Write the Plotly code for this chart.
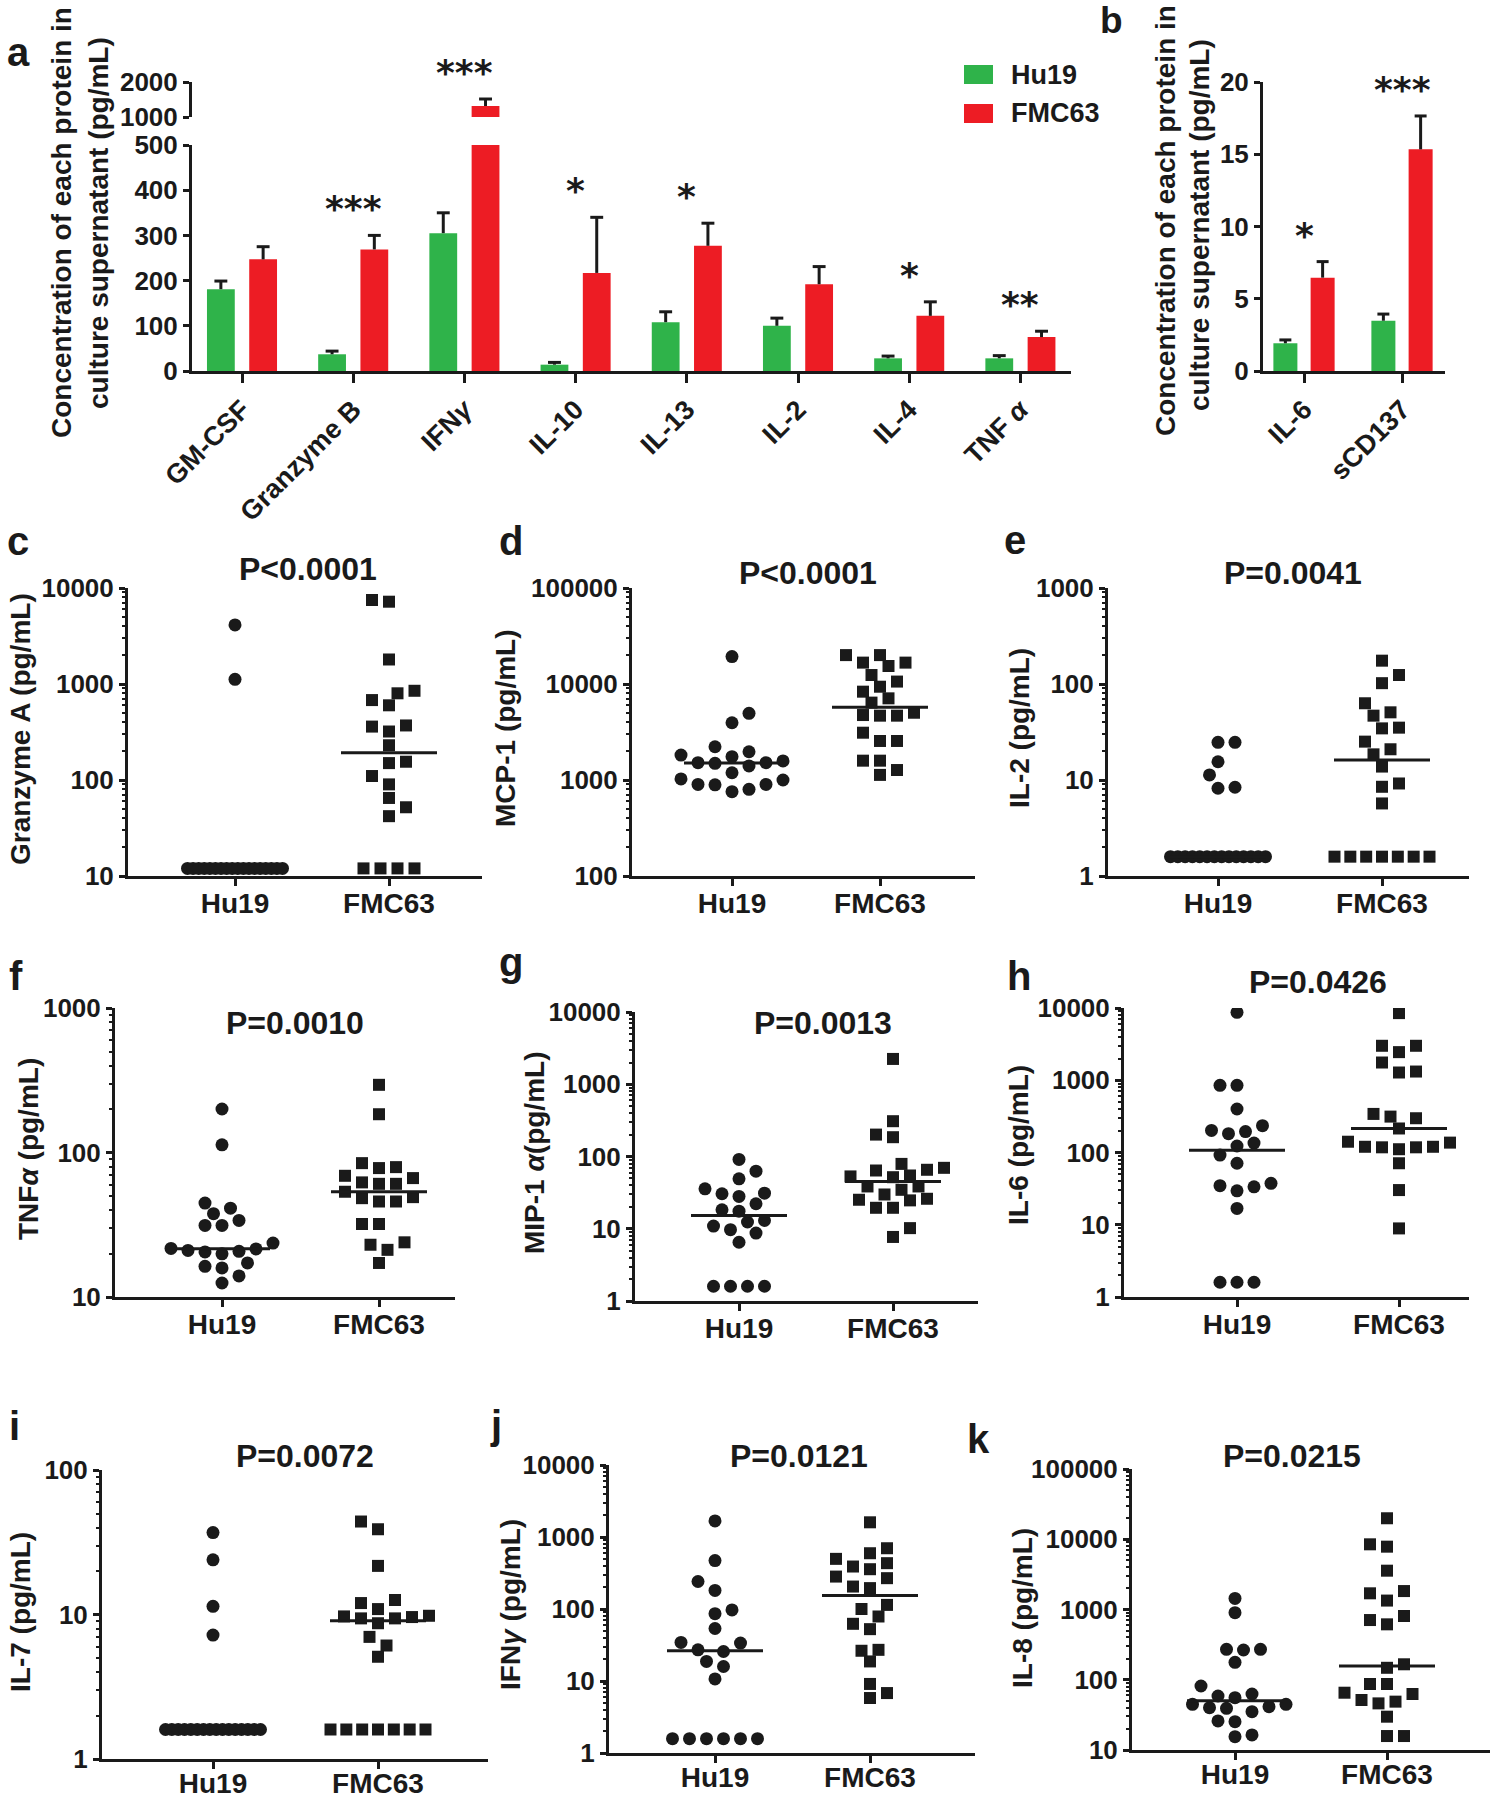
import numpy as np
import plotly.graph_objects as go

W, H = 1495, 1800
INK = "#1a1a1a"
GREEN = "#2fb34a"
RED = "#ed1c24"
FONT = "Liberation Sans, Arial, sans-serif"

# ---- panel a: mean + SEM (pg/mL)
A_CATS = ["GM-CSF", "Granzyme B", "IFN<i>γ</i>", "IL-10", "IL-13", "IL-2", "IL-4", "TNF <i>α</i>"]
A_HU19 = [181, 37, 305, 14, 108, 100, 28, 28]
A_HU19_SEM = [18, 7, 45, 5, 23, 17, 5, 6]
A_FMC63 = [247, 269, 1314, 217, 277, 192, 122, 75]
A_FMC63_SEM = [28, 31, 200, 123, 50, 39, 31, 13]
A_STARS = ["", "***", "***", "*", "*", "", "*", "**"]

# ---- panel b
B_CATS = ["IL-6", "sCD137"]
B_HU19 = [1.92, 3.48]
B_HU19_SEM = [0.23, 0.46]
B_FMC63 = [6.46, 15.34]
B_FMC63_SEM = [1.11, 2.31]
B_STARS = ["*", "***"]

# ---- panels c-k: individual values (pg/mL)
C_HU19 = [4120, 1120, 12, 12, 12, 12, 12, 12, 12, 12, 12, 12, 12, 12, 12, 12, 12, 12, 12, 12]
C_FMC63 = [7500, 7200, 1800, 850, 800, 680, 600, 370, 360, 320, 230, 155, 150, 110, 90, 65, 52, 42,
           12, 12, 12, 12]
D_HU19 = [19300, 4950, 3950, 2220, 1970, 1820, 1750, 1580, 1515, 1400, 1490, 1515, 1190, 1025, 1000,
          900, 890, 900, 755, 800]
D_FMC63 = [20000, 20000, 16700, 16700, 15400, 12400, 10600, 9370, 8320, 7090, 6400, 4750, 4680, 4680,
           5020, 3110, 2550, 2550, 1590, 1590, 1270, 1130]
E_HU19 = [24.7, 24.7, 15.5, 11.3, 8.4, 8.2, 1.59, 1.59, 1.59, 1.59, 1.59, 1.59, 1.59, 1.59, 1.59, 1.59,
          1.59, 1.59, 1.59, 1.59]
E_FMC63 = [175, 124, 102, 63, 50.7, 46.8, 34.5, 35.1, 25.1, 20.9, 18.5, 13.8, 9.2, 8.5, 5.7,
           1.59, 1.59, 1.59, 1.59, 1.59, 1.59, 1.59]
F_HU19 = [200, 113, 44.7, 41.2, 37.7, 33.9, 31.3, 31.3, 23.6, 21.5, 20.7, 19.9, 20.5, 21.0, 21.7, 17.2,
          15.9, 16.3, 14.0, 12.5]
F_FMC63 = [294, 184, 84.4, 79.2, 78.0, 69.0, 66.5, 62.1, 60.7, 60.7, 53.5, 49.1, 45.8, 45.8, 48.3, 32.0,
           32.0, 23.0, 23.9, 21.2, 17.2]
G_HU19 = [91, 62.7, 49.1, 31.1, 35.7, 28.0, 30.5, 22.2, 17.5, 18.3, 10.9, 12.4, 13.0, 9.7, 8.7, 6.5,
          1.6, 1.6, 1.6, 1.6]
G_FMC63 = [2240, 308, 185, 201, 79, 65.5, 64, 69.7, 53, 51.7, 54.6, 38.5, 38.5, 34.6, 29.8, 25.2, 24.7,
           26, 19.5, 19.5, 10.2, 7.7]
H_HU19 = [8700, 850, 850, 400, 195, 235, 202, 182, 135, 123, 92, 71, 37.4, 33.5, 34.7, 29.5, 16.8,
          1.6, 1.6, 1.6]
H_FMC63 = [8500, 3000, 3000, 2450, 1760, 1320, 1280, 314, 298, 342, 215, 120, 141, 118, 137, 118, 111,
           120, 71, 30.2, 8.9]
I_HU19 = [36.9, 23.9, 11.4, 7.2, 1.6, 1.6, 1.6, 1.6, 1.6, 1.6, 1.6, 1.6, 1.6, 1.6, 1.6, 1.6, 1.6, 1.6,
          1.6, 1.6]
I_FMC63 = [44, 38.9, 21.7, 12.6, 12.0, 10.9, 9.7, 9.4, 9.4, 9.6, 9.8, 8.7, 7.0, 6.1, 5.1,
           1.6, 1.6, 1.6, 1.6, 1.6, 1.6, 1.6]
J_HU19 = [1670, 471, 241, 181, 86, 97, 53.6, 34.3, 33.6, 27.1, 25.7, 18.7, 15.9, 10.7,
          1.58, 1.58, 1.58, 1.58, 1.58, 1.58]
J_FMC63 = [1600, 698, 595, 497, 389, 433, 357, 268, 282, 195, 205, 114, 100, 78.7, 62.3, 52.5, 26.3,
           27.1, 18.7, 9.1, 6.8, 5.8]
K_HU19 = [1440, 900, 271, 265, 271, 177, 81.5, 58.7, 62.7, 55.6, 44.7, 41.4, 39.2, 35.1, 40.1, 44.7,
          25.3, 25.9, 15.5, 16.4]
K_FMC63 = [19900, 8470, 7840, 3570, 1700, 1830, 1340, 808, 708, 615, 166, 148, 87, 87, 65.4, 62.7,
           46.1, 51.5, 48.8, 29.8, 15.8, 15.8]

GROUPS = ["Hu19", "FMC63"]

PANELS = [
    ("c", C_HU19, C_FMC63, "Granzyme A (pg/mL)", "P&lt;0.0001", (1, 4)),
    ("d", D_HU19, D_FMC63, "MCP-1 (pg/mL)", "P&lt;0.0001", (2, 5)),
    ("e", E_HU19, E_FMC63, "IL-2 (pg/mL)", "P=0.0041", (0, 3)),
    ("f", F_HU19, F_FMC63, "TNF<i>α</i> (pg/mL)", "P=0.0010", (1, 3)),
    ("g", G_HU19, G_FMC63, "MIP-1 <i>α</i>(pg/mL)", "P=0.0013", (0, 4)),
    ("h", H_HU19, H_FMC63, "IL-6 (pg/mL)", "P=0.0426", (0, 4)),
    ("i", I_HU19, I_FMC63, "IL-7 (pg/mL)", "P=0.0072", (0, 2)),
    ("j", J_HU19, J_FMC63, "IFN<i>γ</i> (pg/mL)", "P=0.0121", (0, 4)),
    ("k", K_HU19, K_FMC63, "IL-8 (pg/mL)", "P=0.0215", (1, 5)),
]

# pixel geometry of each scatter panel (y-axis x, axis end, top, bottom, group ticks, text spots)
GEOM = {
    "c": dict(x0=128, x1=482, top=588, bot=876, hu=235, fmc=389, title=(308, 569), ylab=(20, 729), letter=(5, 557)),
    "d": dict(x0=632, x1=975, top=588, bot=876, hu=732, fmc=880, title=(808, 573), ylab=(506, 728), letter=(497, 557)),
    "e": dict(x0=1108, x1=1469, top=588, bot=876, hu=1218, fmc=1382, title=(1293, 573), ylab=(1020, 728), letter=(1002, 556)),
    "f": dict(x0=115, x1=455, top=1008, bot=1297, hu=222, fmc=379, title=(295, 1023), ylab=(28, 1149), letter=(7, 992)),
    "g": dict(x0=635, x1=978, top=1012, bot=1301, hu=739, fmc=893, title=(823, 1023), ylab=(534, 1153), letter=(497, 978)),
    "h": dict(x0=1124, x1=1469, top=1008, bot=1297, hu=1237, fmc=1399, title=(1318, 982), ylab=(1018, 1145), letter=(1005, 992)),
    "i": dict(x0=102, x1=488, top=1470, bot=1759, hu=213, fmc=378, title=(305, 1456), ylab=(20, 1612), letter=(7, 1442)),
    "j": dict(x0=609, x1=975, top=1465, bot=1753, hu=715, fmc=870, title=(799, 1456), ylab=(510, 1605), letter=(488, 1441)),
    "k": dict(x0=1132, x1=1490, top=1469, bot=1750, hu=1235, fmc=1387, title=(1292, 1456), ylab=(1022, 1608), letter=(965, 1455)),
}

# legend swatches (pixel boxes) and label spots
LEGEND = [("Hu19", GREEN, (964, 65, 993, 84)), ("FMC63", RED, (964, 104, 993, 123))]


def bold(size, family=FONT):
    return dict(family=family, size=size, color=INK, weight="bold")


def px(x):
    return x / W


def py(y):
    return 1 - y / H


def axis_style(**kw):
    base = dict(showline=True, linewidth=3, linecolor=INK, ticks="outside", tickwidth=3,
                tickcolor=INK, showgrid=False, zeroline=False, automargin=False, tickfont=bold(26))
    base.update(kw)
    return base


def err_trace(xs, vals, sem, cap, xaxis, yaxis):
    ex, ey = [], []
    for x, v, e in zip(xs, vals, sem):
        top = v + e
        ex += [x, x, None, x - cap, x + cap, None]
        ey += [v, top, None, top, top, None]
    return go.Scatter(x=ex, y=ey, mode="lines", line=dict(color=INK, width=3),
                      showlegend=False, hoverinfo="skip", xaxis=xaxis, yaxis=yaxis)


def swarm(vals, ppd, ppu, diam=13.5, step=8.5, tie_gap=17.0, tie_span=95.0):
    # simple beeswarm in pixel space, ties (>=3) spread in a row
    v = np.asarray(vals, float)
    ypx = np.log10(v) * ppd
    off = np.full(len(v), np.nan)
    uniq, cnt = np.unique(v, return_counts=True)
    for u, c in zip(uniq, cnt):
        if c >= 3:
            idx = np.flatnonzero(v == u)
            gap = min(tie_gap, tie_span / (c - 1))
            off[idx] = (np.arange(c) - (c - 1) / 2) * gap
    placed = [(off[i], ypx[i]) for i in range(len(v)) if not np.isnan(off[i])]
    side = 1.0
    for i in sorted(np.flatnonzero(np.isnan(off)), key=lambda k: v[k]):
        got = None
        for j in range(60):
            cands = [0.0] if j == 0 else [side * j * step, -side * j * step]
            for c in cands:
                if all((c - qx) ** 2 + (ypx[i] - qy) ** 2 >= diam ** 2 for qx, qy in placed):
                    got = c
                    break
            if got is not None:
                break
        if got != 0:
            side = -np.sign(got)
        off[i] = got
        placed.append((got, ypx[i]))
    return off / ppu


fig = go.Figure()
annotations = []
shapes = []
layout = {}

# ---------------- panel a (broken y axis) ----------------
a_x0, a_x1, a_c0, a_step = 192, 1071, 242, 111.2
a_low_top, a_low_bot, a_up_top, a_up_bot = 145, 371, 82, 117
A_LOW_MAX = 500
xa = np.arange(len(A_CATS))
a_off, a_bw, a_cap = 0.19, 0.25, 0.058

for name, vals, sem, color, sign in [("Hu19", A_HU19, A_HU19_SEM, GREEN, -1),
                                      ("FMC63", A_FMC63, A_FMC63_SEM, RED, 1)]:
    xs = xa + sign * a_off
    for yax in ["y", "y2"]:
        fig.add_trace(go.Bar(x=xs, y=vals, width=a_bw, marker_color=color, marker_line_width=0,
                             name=name, showlegend=False, xaxis="x", yaxis=yax))
        fig.add_trace(err_trace(xs, vals, sem, a_cap, "x", yax))

for i, s in enumerate(A_STARS):
    if not s:
        continue
    top = max(A_HU19[i] + A_HU19_SEM[i], A_FMC63[i] + A_FMC63_SEM[i])
    annotations.append(dict(x=i, y=top, xref="x", yref="y" if top <= A_LOW_MAX else "y2",
                            text=s, showarrow=False, yanchor="bottom", yshift=4,
                            font=bold(36, "DejaVu Sans, sans-serif")))

layout["xaxis"] = axis_style(domain=[px(a_x0), px(a_x1)], anchor="y",
                             range=[(a_x0 - a_c0) / a_step, (a_x1 - a_c0) / a_step],
                             tickvals=list(xa), ticktext=A_CATS, tickangle=-45, ticklen=9,
                             tickfont=bold(27))
layout["yaxis"] = axis_style(domain=[py(a_low_bot), py(a_low_top)], anchor="x",
                             range=[0, A_LOW_MAX], tickvals=[0, 100, 200, 300, 400, 500], ticklen=6)
layout["yaxis2"] = axis_style(domain=[py(a_up_bot), py(a_up_top)], anchor="x",
                              range=[1000, 2000], tickvals=[1000, 2000], ticklen=6)

for name, color, (x0, y0, x1, y1) in LEGEND:
    shapes.append(dict(type="rect", xref="paper", yref="paper", x0=px(x0), x1=px(x1),
                       y0=py(y1), y1=py(y0), fillcolor=color, line_width=0))
    annotations.append(dict(x=px(x1 + 16), y=py((y0 + y1) / 2), xref="paper", yref="paper",
                            text=name, showarrow=False, xanchor="left", yanchor="middle",
                            font=bold(27)))

# ---------------- panel b ----------------
b_x0, b_x1, b_c0, b_step = 1263, 1445, 1304, 98
xb = np.arange(len(B_CATS))
b_off, b_bw, b_cap = 0.19, 0.245, 0.061
for name, vals, sem, color, sign in [("Hu19", B_HU19, B_HU19_SEM, GREEN, -1),
                                      ("FMC63", B_FMC63, B_FMC63_SEM, RED, 1)]:
    xs = xb + sign * b_off
    fig.add_trace(go.Bar(x=xs, y=vals, width=b_bw, marker_color=color, marker_line_width=0,
                         name=name, showlegend=False, xaxis="x3", yaxis="y3"))
    fig.add_trace(err_trace(xs, vals, sem, b_cap, "x3", "y3"))
for i, s in enumerate(B_STARS):
    top = max(B_HU19[i] + B_HU19_SEM[i], B_FMC63[i] + B_FMC63_SEM[i])
    annotations.append(dict(x=i, y=top, xref="x3", yref="y3", text=s, showarrow=False,
                            yanchor="bottom", yshift=4, font=bold(36, "DejaVu Sans, sans-serif")))
layout["xaxis3"] = axis_style(domain=[px(b_x0), px(b_x1)], anchor="y3",
                              range=[(b_x0 - b_c0) / b_step, (b_x1 - b_c0) / b_step],
                              tickvals=list(xb), ticktext=B_CATS, tickangle=-45, ticklen=9,
                              tickfont=bold(27))
layout["yaxis3"] = axis_style(domain=[py(371), py(82)], anchor="x3", range=[0, 20],
                              tickvals=[0, 5, 10, 15, 20], ticklen=6)

ytitle_lines = [("Concentration of each protein in", 61, 223), ("culture supernatant (pg/mL)", 98, 223),
                ("Concentration of each protein in", 1166, 221), ("culture supernatant (pg/mL)", 1199, 225)]
for txt, x, y in ytitle_lines:
    annotations.append(dict(x=px(x), y=py(y), xref="paper", yref="paper", text=txt, textangle=-90,
                            showarrow=False, xanchor="center", yanchor="middle", font=bold(28)))
for letter, x, bottom, size in [("a", 5, 76, 40), ("b", 1098, 43, 37)]:
    annotations.append(dict(x=px(x), y=py(bottom), xref="paper", yref="paper", text=letter,
                            showarrow=False, xanchor="left", yanchor="bottom", font=bold(size)))

# ---------------- panels c-k ----------------
for n, (key, hu, fmc, ytitle, ptxt, (lo, hi)) in enumerate(PANELS, start=4):
    g = GEOM[key]
    ppu = g["fmc"] - g["hu"]
    ppd = (g["bot"] - g["top"]) / (hi - lo)
    xr = [(g["x0"] - g["hu"]) / ppu, (g["x1"] - g["hu"]) / ppu]
    hw = 48 / ppu
    xn, yn = f"x{n}", f"y{n}"
    for gi, (vals, sym, size) in enumerate([(hu, "circle", 13), (fmc, "square", 12)]):
        xs = gi + swarm(vals, ppd, ppu)
        fig.add_trace(go.Scatter(x=xs, y=vals, mode="markers", showlegend=False,
                                 marker=dict(symbol=sym, size=size, color=INK, line_width=0),
                                 xaxis=xn, yaxis=yn))
        med = float(np.median(vals))
        fig.add_trace(go.Scatter(x=[gi - hw, gi + hw], y=[med, med], mode="lines", showlegend=False,
                                 line=dict(color=INK, width=3), xaxis=xn, yaxis=yn))
    standoff = -10 if g["bot"] > 1700 else -7
    layout[f"xaxis{n}"] = axis_style(domain=[px(g["x0"]), px(g["x1"])], anchor=yn, range=xr,
                                     tickvals=[0, 1], ticktext=GROUPS, ticklen=7, tickfont=bold(28),
                                     ticklabelstandoff=standoff)
    layout[f"yaxis{n}"] = axis_style(domain=[py(g["bot"]), py(g["top"])], anchor=xn, type="log",
                                     range=[lo, hi], tickvals=[10 ** k for k in range(lo, hi + 1)],
                                     ticktext=[str(10 ** k) for k in range(lo, hi + 1)],
                                     ticklen=6, tickfont=bold(26),
                                     minor=dict(ticks="outside", ticklen=3, tickwidth=2,
                                                tickcolor=INK, dtick="D1", showgrid=False))
    annotations.append(dict(x=px(g["title"][0]), y=py(g["title"][1]), xref="paper", yref="paper",
                            text=ptxt, showarrow=False, xanchor="center", yanchor="middle", font=bold(32)))
    annotations.append(dict(x=px(g["ylab"][0]), y=py(g["ylab"][1]), xref="paper", yref="paper",
                            text=ytitle, textangle=-90, showarrow=False, xanchor="center",
                            yanchor="middle", font=bold(28)))
    annotations.append(dict(x=px(g["letter"][0]), y=py(g["letter"][1] + 8), xref="paper", yref="paper",
                            text=key, showarrow=False, xanchor="left", yanchor="bottom", font=bold(40)))

fig.update_layout(
    width=W, height=H, margin=dict(l=0, r=0, t=0, b=0),
    paper_bgcolor="white", plot_bgcolor="white",
    barmode="overlay", showlegend=False,
    annotations=annotations, shapes=shapes,
    **layout,
)

# drop the browser's default 8px body margin so the figure sits at the page corner
fig.write_html("out.html", config={"displayModeBar": False},
               post_script="document.body.style.margin='0px';")
